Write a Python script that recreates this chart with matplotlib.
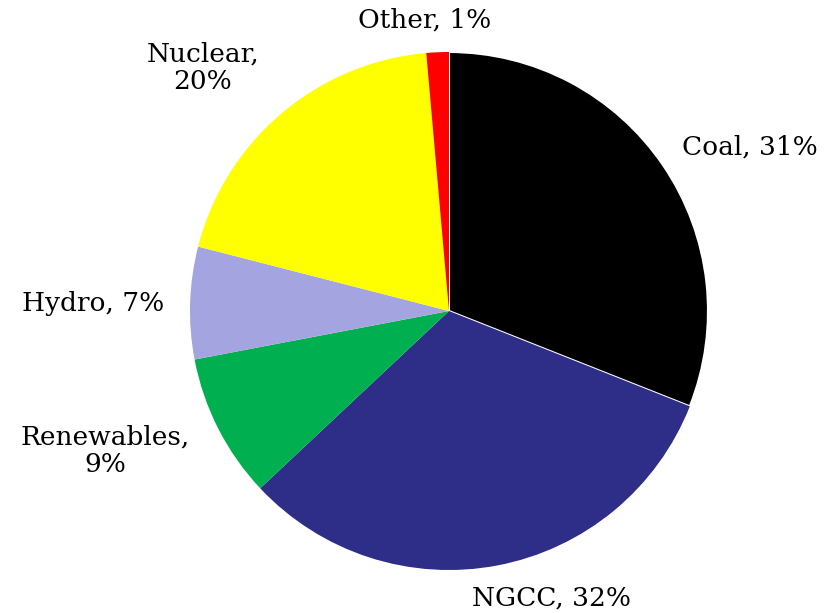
import matplotlib
matplotlib.use("Agg")
import matplotlib.pyplot as plt

categories = ["Coal", "NGCC", "Renewables", "Hydro", "Nuclear", "Other"]
shares = [31, 32, 9, 7, 19.6, 1.4]
colors = ["#000000", "#2e2d88", "#00b050", "#a4a4e0", "#ffff00", "#ff0000"]

# label layout (pixel centres in figure, two-line flag)
label_pos = {
    "Coal": (750, 147, False),
    "NGCC": (551, 598, False),
    "Renewables": (105, 451, True),
    "Hydro": (93, 303, False),
    "Nuclear": (203, 68, True),
    "Other": (425, 20, False),
}

W, H = 834, 613
cx, cy, r = 449, 311, 259
fig = plt.figure(figsize=(W / 100, H / 100), dpi=100)
ax = fig.add_axes([(cx - r) / W, (H - cy - r) / H, 2 * r / W, 2 * r / H])
wedges, _ = ax.pie(shares, colors=colors, startangle=90, counterclock=False, radius=1,
                   wedgeprops=dict(linewidth=0))
wedges[0].set_edgecolor("white")
wedges[0].set_linewidth(1.5)
ax.set_xlim(-1, 1)
ax.set_ylim(-1, 1)
ax.set_aspect("equal")
ax.axis("off")

for cat, val in zip(categories, shares):
    px, py, two = label_pos[cat]
    sep = "\n" if two else " "
    txt = f"{cat},{sep}{round(val)}%"
    fig.text(px / W, 1 - py / H, txt, ha="center", va="center",
             fontsize=19, family="DejaVu Serif", linespacing=1.1)

fig.savefig("out.png", dpi=100, facecolor="white")
